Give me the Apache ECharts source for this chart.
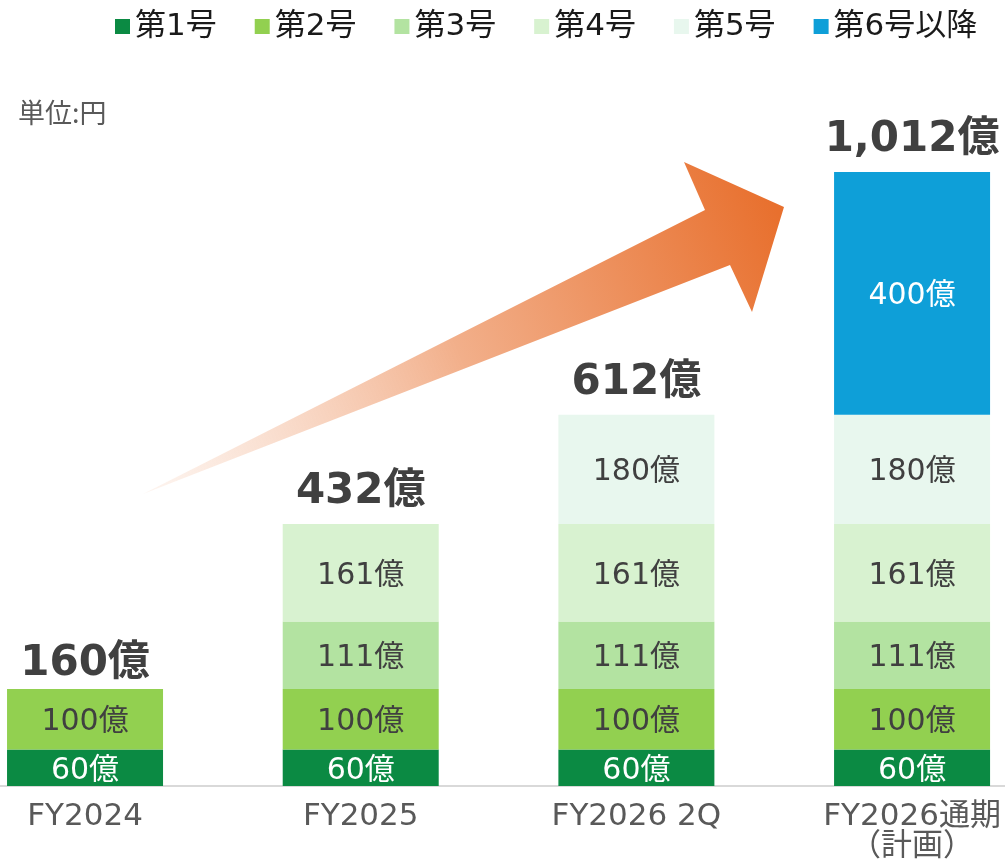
<!DOCTYPE html>
<html>
<head>
<meta charset="utf-8">
<script src="https://cdn.jsdelivr.net/npm/echarts@6/dist/echarts.min.js"></script>
<style>
  html, body { margin: 0; padding: 0; background: #fff; }
  #chart { width: 1005px; height: 862px; }
</style>
</head>
<body>
<div id="chart"></div>
<script>
const categories = ["FY2024", "FY2025", "FY2026 2Q", "FY2026通期\n（計画）"];
const seriesNames = ["第1号", "第2号", "第3号", "第4号", "第5号", "第6号以降"];
const gou1 = [60, 60, 60, 60];
const gou2 = [100, 100, 100, 100];
const gou3 = [null, 111, 111, 111];
const gou4 = [null, 161, 161, 161];
const gou5 = [null, null, 180, 180];
const gou6 = [null, null, null, 400];
const totals = [160, 432, 612, 1012];

const colors = ["#0B8A43", "#92D050", "#B3E3A1", "#D8F2D0", "#E8F7EE", "#0E9FD8"];
const labelColors = ["#fff", "#404040", "#404040", "#404040", "#404040", "#fff"];
const font = "'DejaVu Sans', 'Noto Sans CJK JP', sans-serif";

let myChart = echarts.init(document.getElementById("chart"));

let allData = [gou1, gou2, gou3, gou4, gou5, gou6];
let series = allData.map((d, i) => ({
  name: seriesNames[i],
  type: "bar",
  stack: "total",
  barWidth: 156,
  data: d,
  itemStyle: { color: colors[i] },
  label: {
    show: true,
    position: "inside",
    offset: [0, 3],
    color: labelColors[i],
    fontSize: 30,
    fontFamily: font,
    formatter: (p) => p.value + "億",
  },
}));

// 合計ラベル用（透明バー）
series.push({
  name: "合計",
  type: "bar",
  barGap: "-100%",
  barWidth: 156,
  data: totals.map((v, i) => (i === 0 ? { value: v, label: { distance: 4 } } : v)),
  z: 1,
  itemStyle: { color: "rgba(0,0,0,0)" },
  label: {
    show: true,
    position: "top",
    distance: 11,
    color: "#404040",
    fontSize: 42,
    fontWeight: "bold",
    fontFamily: font,
    formatter: (p) => p.value.toLocaleString("en-US") + "億",
  },
});

let option = {
  animation: false,
  legend: {
    data: seriesNames,
    left: 110,
    top: 6,
    itemWidth: 15,
    itemHeight: 15,
    itemGap: 38,
    icon: "rect",
    textStyle: { fontSize: 31, color: "#1a1a1a", fontFamily: font },
  },
  grid: {
    left: -52.8,
    right: -44.9,
    top: 58,
    bottom: 76,
    outerBoundsMode: "none",
    containLabel: false,
  },
  xAxis: {
    type: "category",
    data: categories,
    axisTick: { show: false },
    axisLine: { lineStyle: { color: "#D9D9D9", width: 2 } },
    axisLabel: {
      color: "#595959",
      fontSize: 31,
      lineHeight: 30,
      margin: 16,
      fontFamily: font,
    },
  },
  yAxis: {
    type: "value",
    min: 0,
    max: 1200,
    show: false,
    splitLine: { show: false },
  },
  graphic: [
    {
      type: "text",
      left: 18,
      top: 99,
      style: { text: "単位:円", fontSize: 27, fill: "#595959", fontFamily: "'Noto Sans CJK JP', sans-serif" },
    },
    {
      type: "polygon",
      z: 0,
      shape: {
        points: [
          [143, 494],
          [705, 210],
          [684, 162],
          [784, 207],
          [752, 312],
          [730, 265],
        ],
      },
      style: {
        fill: new echarts.graphic.LinearGradient(0, 1, 1, 0.2, [
          { offset: 0, color: "rgba(252,238,230,0.6)" },
          { offset: 0.5, color: "#F2AF8A" },
          { offset: 1, color: "#E8702E" },
        ]),
      },
    },
  ],
  series: series,
};
option && myChart.setOption(option);
</script>
</body>
</html>
